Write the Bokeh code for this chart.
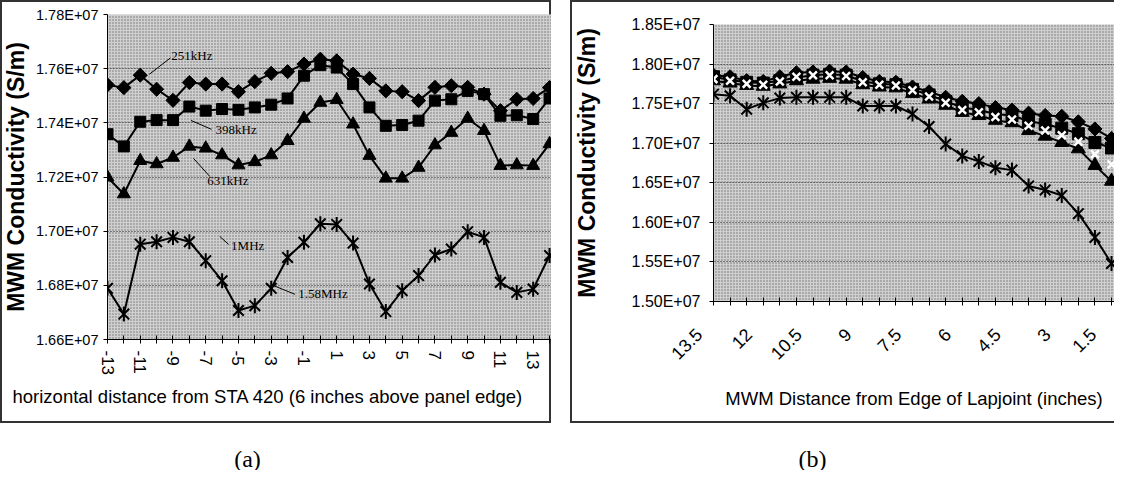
import math
from bokeh.plotting import figure
from bokeh.models import (Range1d, FixedTicker, CustomJSTickFormatter, BoxAnnotation, Title, Spacer)
from bokeh.layouts import row, column
from bokeh.embed import file_html
from bokeh.resources import INLINE
from bokeh.core.properties import value

# ---------------- panel (a) data ----------------
x_a = [-13, -12, -11, -10, -9, -8, -7, -6, -5, -4, -3, -2, -1, 0,
       1, 2, 3, 4, 5, 6, 7, 8, 9, 10, 11, 12, 13, 14]
f251_a = [1.7540e7, 1.7530e7, 1.7576e7, 1.7524e7, 1.7483e7, 1.7549e7, 1.7543e7,
          1.7543e7, 1.7515e7, 1.7552e7, 1.7583e7, 1.7589e7, 1.7617e7, 1.7635e7,
          1.7629e7, 1.7580e7, 1.7564e7, 1.7518e7, 1.7515e7, 1.7482e7, 1.7531e7,
          1.7537e7, 1.7531e7, 1.7506e7, 1.7445e7, 1.7487e7, 1.7490e7, 1.7530e7]
f398_a = [1.7358e7, 1.7313e7, 1.7404e7, 1.7410e7, 1.7410e7, 1.7460e7, 1.7445e7,
          1.7451e7, 1.7448e7, 1.7457e7, 1.7467e7, 1.7490e7, 1.7574e7, 1.7613e7,
          1.7604e7, 1.7543e7, 1.7457e7, 1.7389e7, 1.7392e7, 1.7408e7, 1.7482e7,
          1.7487e7, 1.7518e7, 1.7506e7, 1.7426e7, 1.7428e7, 1.7414e7, 1.7490e7]
f631_a = [1.7199e7, 1.7137e7, 1.7260e7, 1.7248e7, 1.7272e7, 1.7313e7, 1.7306e7,
          1.7281e7, 1.7244e7, 1.7256e7, 1.7281e7, 1.7334e7, 1.7416e7, 1.7475e7,
          1.7485e7, 1.7395e7, 1.7279e7, 1.7195e7, 1.7195e7, 1.7235e7, 1.7318e7,
          1.7364e7, 1.7416e7, 1.7371e7, 1.7242e7, 1.7244e7, 1.7242e7, 1.7322e7]
f158_a = [1.6789e7, 1.6694e7, 1.6952e7, 1.6961e7, 1.6977e7, 1.6961e7, 1.6891e7,
          1.6817e7, 1.6707e7, 1.6725e7, 1.6789e7, 1.6903e7, 1.6959e7, 1.7027e7,
          1.7025e7, 1.6956e7, 1.6805e7, 1.6703e7, 1.6780e7, 1.6836e7, 1.6912e7,
          1.6934e7, 1.6998e7, 1.6977e7, 1.6811e7, 1.6774e7, 1.6786e7, 1.6910e7]
y_ticks_a = [1.66e7, 1.68e7, 1.70e7, 1.72e7, 1.74e7, 1.76e7, 1.78e7]
x_labeled_a = [-13, -11, -9, -7, -5, -3, -1, 1, 3, 5, 7, 9, 11, 13]
x_labels_a = ["-13", "-11", "-9", "-7", "-5", "-3", "-1", "1", "3", "5", "7", "9", "11", "13"]

# series annotations in panel (a): text, anchor, leader line
ann_text_a = ["251kHz", "398kHz", "631kHz", "1MHz", "1.58MHz"]
ann_x_a = [-9.1, -6.4, -6.9, -5.45, -1.35]
ann_y_a = [1.7650e7, 1.7376e7, 1.7187e7, 1.6948e7, 1.6770e7]
lead_x0_a = [-9.15, -7.9, -7.75, -6.15, -2.9]
lead_y0_a = [1.7640e7, 1.7409e7, 1.7269e7, 1.6981e7, 1.6800e7]
lead_x1_a = [-10.45, -6.65, -6.75, -5.6, -1.55]
lead_y1_a = [1.7579e7, 1.7376e7, 1.7202e7, 1.6951e7, 1.6767e7]

# ---------------- panel (b) data ----------------
x_b = [13.5, 13.0, 12.5, 12.0, 11.5, 11.0, 10.5, 10.0, 9.5, 9.0, 8.5, 8.0, 7.5,
       7.0, 6.5, 6.0, 5.5, 5.0, 4.5, 4.0, 3.5, 3.0, 2.5, 2.0, 1.5]
f251_b = [1.786e7, 1.784e7, 1.779e7, 1.778e7, 1.784e7, 1.789e7, 1.790e7, 1.791e7,
          1.790e7, 1.783e7, 1.778e7, 1.777e7, 1.771e7, 1.765e7, 1.758e7, 1.753e7,
          1.750e7, 1.745e7, 1.742e7, 1.738e7, 1.735e7, 1.734e7, 1.727e7, 1.718e7, 1.706e7]
f398_b = [1.784e7, 1.780e7, 1.777e7, 1.776e7, 1.779e7, 1.783e7, 1.786e7, 1.787e7,
          1.786e7, 1.778e7, 1.775e7, 1.774e7, 1.768e7, 1.761e7, 1.753e7, 1.745e7,
          1.742e7, 1.737e7, 1.735e7, 1.728e7, 1.724e7, 1.719e7, 1.712e7, 1.701e7, 1.694e7]
f631_b = [1.779e7, 1.776e7, 1.773e7, 1.772e7, 1.775e7, 1.779e7, 1.781e7, 1.782e7,
          1.781e7, 1.774e7, 1.771e7, 1.770e7, 1.763e7, 1.756e7, 1.748e7, 1.739e7,
          1.735e7, 1.729e7, 1.726e7, 1.716e7, 1.709e7, 1.701e7, 1.693e7, 1.672e7, 1.652e7]
f1m_b = [1.781e7, 1.779e7, 1.775e7, 1.774e7, 1.778e7, 1.784e7, 1.786e7, 1.786e7,
         1.785e7, 1.777e7, 1.774e7, 1.773e7, 1.767e7, 1.759e7, 1.751e7, 1.742e7,
         1.739e7, 1.733e7, 1.730e7, 1.722e7, 1.716e7, 1.710e7, 1.702e7, 1.686e7, 1.673e7]
f158_b = [1.762e7, 1.760e7, 1.743e7, 1.751e7, 1.757e7, 1.758e7, 1.758e7, 1.758e7,
          1.758e7, 1.747e7, 1.747e7, 1.747e7, 1.737e7, 1.721e7, 1.699e7, 1.684e7,
          1.677e7, 1.669e7, 1.666e7, 1.646e7, 1.641e7, 1.634e7, 1.611e7, 1.581e7, 1.548e7]
y_ticks_b = [1.50e7, 1.55e7, 1.60e7, 1.65e7, 1.70e7, 1.75e7, 1.80e7, 1.85e7]
x_labeled_b = [13.5, 12.0, 10.5, 9.0, 7.5, 6.0, 4.5, 3.0, 1.5]
x_labels_b = ["13.5", "12", "10.5", "9", "7.5", "6", "4.5", "3", "1.5"]

captions = ["(a)", "(b)"]

SANS = "Liberation Sans"
SERIF = "Liberation Serif"
BG = "#cfcfcf"
FRAME = "#333333"
PANEL_H = 423

yfmt = CustomJSTickFormatter(code="return (tick/1e7).toFixed(2) + 'E+07';")


def label_fmt(vals, labs, pad=""):
    return CustomJSTickFormatter(
        args=dict(vals=vals, labs=labs, pad=pad),
        code="for (let k = 0; k < vals.length; k++) { if (Math.abs(vals[k] - tick) < 1e-6) return labs[k] + pad; } return '';")


def base_style(p):
    p.frame_align = False
    p.border_fill_color = None
    p.outline_line_color = None
    p.background_fill_color = BG
    p.add_layout(BoxAnnotation(fill_color=BG, fill_alpha=1.0, line_color=None,
                               hatch_pattern="dot", hatch_color="black", hatch_alpha=0.45,
                               hatch_scale=3, hatch_weight=1, level="image"))
    p.xgrid.visible = False
    p.ygrid.grid_line_color = "black"
    p.ygrid.grid_line_dash = "1 2"
    p.ygrid.grid_line_alpha = 0.85
    for ax in (p.xaxis[0], p.yaxis[0]):
        ax.axis_line_color = "black"
        ax.axis_line_width = 1
        ax.major_tick_line_color = "black"
        ax.minor_tick_line_color = None
        ax.major_label_text_font = SANS
        ax.major_label_text_color = "black"
        ax.axis_label_text_font = SANS
        ax.axis_label_text_color = "black"
    p.yaxis[0].major_tick_in = 0
    p.yaxis[0].major_tick_out = 4
    p.yaxis[0].formatter = yfmt
    p.yaxis[0].axis_label = "MWM Conductivity (S/m)"
    p.yaxis[0].axis_label_text_font_style = "bold"
    p.yaxis[0].axis_label_text_font_size = "23px"
    p.xaxis[0].major_tick_in = 4
    p.xaxis[0].major_tick_out = 4


def add_series(p, xs, ys, kind, size, fill="black", line="black", line_width=2, draw_line=True):
    if draw_line:
        p.line(xs, ys, line_color=line, line_width=line_width)
    if kind == "diamond":
        p.scatter(xs, ys, marker="square", angle=math.pi / 4, size=size,
                  fill_color=fill, line_color=line)
    elif kind == "asterisk":
        p.scatter(xs, ys, marker="x", size=size, line_color=line, line_width=2)
        p.scatter(xs, ys, marker="dash", angle=math.pi / 2, size=size,
                  line_color=line, line_width=2)
    elif kind == "x":
        p.scatter(xs, ys, marker="x", size=size, line_color=line, line_width=2.5)
    else:
        p.scatter(xs, ys, marker=kind, size=size, fill_color=fill, line_color=line)


# ---------------- figure (a) ----------------
WA = 551
pa = figure(width=WA, height=PANEL_H, output_backend="svg", toolbar_location=None,
            x_range=Range1d(-13, 14.12), y_range=Range1d(1.66e7, 1.78e7),
            min_border_left=99, min_border_right=0, min_border_top=14, min_border_bottom=84)
base_style(pa)
pa.yaxis[0].ticker = FixedTicker(ticks=y_ticks_a)
pa.yaxis[0].major_label_text_font_size = "14.5px"
pa.yaxis[0].major_label_standoff = 5
pa.yaxis[0].axis_label_standoff = 4
pa.xaxis[0].ticker = FixedTicker(ticks=x_a)
pa.xaxis[0].formatter = label_fmt(x_labeled_a, x_labels_a)
pa.xaxis[0].major_label_orientation = "vertical"
pa.xaxis[0].major_label_text_font_size = "17px"
pa.xaxis[0].major_label_standoff = 7
pa.add_layout(Title(text="horizontal distance from STA 420 (6 inches above panel edge)",
                    align="left", offset=-95, standoff=11, text_font=SANS,
                    text_font_size="18.5px", text_font_style="normal", text_color="black"),
              "below")

add_series(pa, x_a, f251_a, "diamond", 10)
add_series(pa, x_a, f398_a, "square", 11)
add_series(pa, x_a, f631_a, "triangle", 13)
add_series(pa, x_a, f158_a, "asterisk", 15)

pa.segment(lead_x0_a, lead_y0_a, lead_x1_a, lead_y1_a, line_color="black", line_width=1)
pa.text(ann_x_a, ann_y_a, text=ann_text_a, text_font=value(SERIF), text_font_size="13px",
        text_baseline="middle", text_align="left", text_color="black")
pa.styles = {"box-shadow": "inset 0 0 0 2px " + FRAME}

# ---------------- figure (b) ----------------
WB = 544
pb = figure(width=WB, height=PANEL_H, output_backend="svg", toolbar_location=None,
            x_range=Range1d(13.5, 1.41), y_range=Range1d(1.50e7, 1.85e7),
            min_border_left=138, min_border_right=0, min_border_top=24, min_border_bottom=122)
base_style(pb)
pb.yaxis[0].ticker = FixedTicker(ticks=y_ticks_b)
pb.yaxis[0].major_label_text_font_size = "16px"
pb.yaxis[0].major_label_standoff = 9
pb.yaxis[0].axis_label_standoff = 29
pb.xaxis[0].ticker = FixedTicker(ticks=x_b)
pb.xaxis[0].formatter = label_fmt(x_labeled_b, x_labels_b, pad="\u00a0\u00a0\u00a0\u00a0")
pb.xaxis[0].major_label_orientation = math.pi / 4
pb.xaxis[0].major_label_text_font_size = "18px"
pb.xaxis[0].major_label_standoff = 12
pb.xaxis[0].axis_label = "MWM Distance from Edge of Lapjoint (inches)"
pb.xaxis[0].axis_label_text_font_size = "18.5px"
pb.xaxis[0].axis_label_text_font_style = "normal"
pb.xaxis[0].axis_label_standoff = 14

add_series(pb, x_b, f158_b, "asterisk", 15)
add_series(pb, x_b, f631_b, "triangle", 14)
add_series(pb, x_b, f398_b, "square", 12)
add_series(pb, x_b, f251_b, "diamond", 10)
add_series(pb, x_b, f1m_b, "x", 11, line="white", draw_line=False)
pb.styles = {"box-shadow": "inset 2px 0 0 0 %s, inset 0 2px 0 0 %s, inset 0 -2px 0 0 %s"
             % (FRAME, FRAME, FRAME)}

# ---------------- captions ----------------
CAP_H = 47
pc = figure(width=WA + 19 + WB, height=CAP_H, output_backend="svg", toolbar_location=None,
            x_range=Range1d(0, WA + 19 + WB), y_range=Range1d(0, CAP_H), min_border=0)
pc.axis.visible = False
pc.grid.visible = False
pc.outline_line_color = None
pc.background_fill_color = None
pc.border_fill_color = None
pc.text([247, 812], [12, 12], text=captions, text_font=value(SERIF), text_font_size="24px",
        text_align="center", text_baseline="middle", text_color="black")

layout = column(row(pa, Spacer(width=19, height=PANEL_H), pb), pc)
open("out.html", "w").write(file_html(layout, INLINE))
